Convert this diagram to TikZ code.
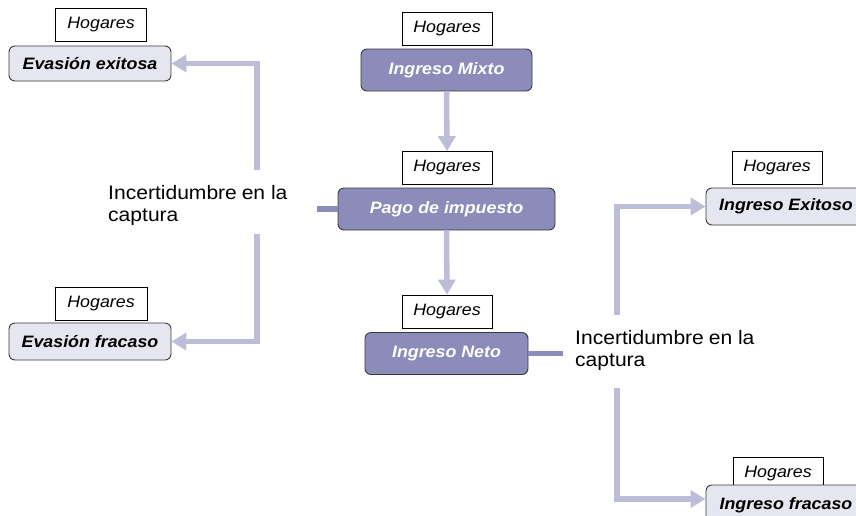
\documentclass[tikz,border=0pt]{standalone}
\usepackage{fontspec}
\setmainfont{Liberation Sans}[FakeStretch=1.08]
\usetikzlibrary{arrows.meta}
\definecolor{flowlight}{HTML}{BDBDD9}
\definecolor{boxdark}{HTML}{8C8CBA}
\definecolor{boxlight}{HTML}{E6E6F1}
\definecolor{edge}{HTML}{3A3A3A}
\tikzset{
  agent/.style={draw=black, line width=0.7pt, fill=white, inner sep=0pt,
    minimum width=90pt, minimum height=33pt,
    font=\fontsize{16.5}{19}\selectfont\itshape},
  stage/.style={draw=edge, line width=0.9pt, rounded corners=6pt, fill=boxdark,
    text=white, inner sep=0pt, minimum height=42pt,
    font=\fontsize{16.5}{19}\selectfont\bfseries\itshape},
  outcome/.style={draw=edge, line width=0.9pt, rounded corners=6pt, fill=boxlight,
    text=black, inner sep=0pt, minimum height=36pt,
    font=\fontsize{16.5}{19}\selectfont\bfseries\itshape},
  note/.style={align=left, inner sep=0pt, anchor=base west,
    font=\fontsize{19.5}{22.5}\selectfont},
  flow/.style={draw=flowlight, line width=5.5pt,
    -{Triangle[width=17pt,length=15pt]}},
  stub/.style={draw=boxdark, line width=5.5pt},
  branch/.style={draw=flowlight, line width=5.5pt}
}
\begin{document}
\begin{tikzpicture}[x=1pt,y=-1pt]
\useasboundingbox (0,0) rectangle (856,515);
\clip (0,0) rectangle (856,515);

% central chain
\node[agent] (h1) at (447,28.5) {Hogares};
\node[stage, minimum width=171pt] (mixto) at (446.5,70) {Ingreso Mixto};
\node[agent] (h2) at (447,168) {Hogares};
\node[stage, minimum width=217pt] (pago) at (446.5,209) {Pago de impuesto};
\node[agent] (h3) at (447,311.5) {Hogares};
\node[stage, minimum width=163pt] (neto) at (446.5,353.5) {Ingreso Neto};

\draw[flow] (mixto.south) -- (h2.north);
\draw[flow] (pago.south) -- (h3.north);

% left branch: evasion
\node[agent, minimum width=91pt] (h4) at (101,25) {Hogares};
\node[outcome, minimum width=162pt, minimum height=35pt] (evx) at (90,63.5) {Evasión exitosa};
\node[agent, minimum width=92pt] (h5) at (101,303.5) {Hogares};
\node[outcome, minimum width=162pt, minimum height=37pt] (evf) at (90,341.5) {Evasión fracaso};
\node[note] (capL) at (108,221.7) {Incertidumbre\hspace{-1pt} en la\\captura};

\coordinate (stubL) at (317,209);
\draw[stub] (stubL) -- (pago.west);
\coordinate (upL) at (257,170);
\coordinate (dnL) at (257,234);
\draw[flow] (upL) |- (evx.east);
\draw[flow] (dnL) |- (evf.east);

% right branch: income
\node[agent] (h6) at (777,168) {Hogares};
\node[outcome, minimum width=160pt, minimum height=37pt] (iex) at (786,206.5) {Ingreso Exitoso};
\node[agent] (h7) at (778,473.5) {Hogares};
\node[outcome, minimum width=160pt, minimum height=40pt] (ifr) at (786,505) {Ingreso fracaso};
\node[note] (capR) at (575,366.7) {Incertidumbre\hspace{-1pt} en la\\captura};

\coordinate (stubR) at (563,353.5);
\draw[stub] (neto.east) -- (stubR);
\coordinate (upR) at (617,315);
\coordinate (dnR) at (617,388);
\draw[flow] (upR) |- (iex.west);
\draw[flow] (dnR) |- ([yshift=6pt]ifr.west);
\end{tikzpicture}
\end{document}
